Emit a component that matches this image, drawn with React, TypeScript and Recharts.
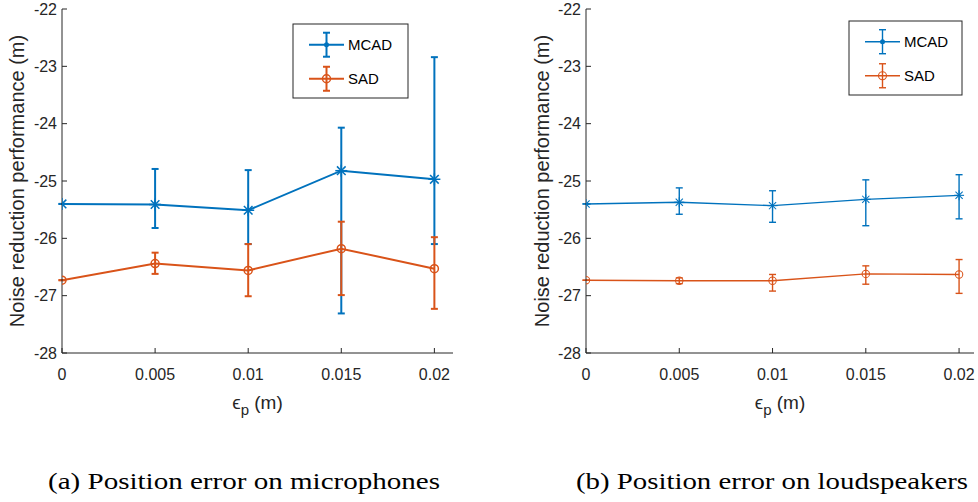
import React from 'react';
import { LineChart, Line, XAxis, YAxis, ErrorBar } from 'recharts';

// shared axes
const eps = [0, 0.005, 0.01, 0.015, 0.02];
const xTicks = [0, 0.005, 0.01, 0.015, 0.02];
const yTicks = [-28, -27, -26, -25, -24, -23, -22];

// (a) position error on microphones
const micMcad = [-25.4, -25.41, -25.51, -24.82, -24.97];
const micMcadUp = [0, 0.62, 0.7, 0.75, 2.13];
const micMcadDown = [0, 0.41, 0.59, 2.49, 1.13];
const micSad = [-26.73, -26.44, -26.56, -26.18, -26.53];
const micSadUp = [0, 0.19, 0.46, 0.47, 0.55];
const micSadDown = [0, 0.18, 0.45, 0.81, 0.7];

// (b) position error on loudspeakers
const lsMcad = [-25.4, -25.37, -25.43, -25.32, -25.25];
const lsMcadUp = [0, 0.25, 0.26, 0.34, 0.36];
const lsMcadDown = [0, 0.21, 0.29, 0.46, 0.41];
const lsSad = [-26.73, -26.74, -26.74, -26.62, -26.63];
const lsSadUp = [0, 0.05, 0.11, 0.14, 0.26];
const lsSadDown = [0, 0.05, 0.18, 0.18, 0.33];

const BLUE = '#0072BD';
const ORANGE = '#D95319';
const AXIS = '#262626';
const SANS = 'Liberation Sans, Arial, Helvetica, sans-serif';
const SERIF = 'Liberation Serif, Times New Roman, serif';

const rows = (m: number[], mu: number[], md: number[], s: number[], su: number[], sd: number[]) =>
  eps.map((x, i) => ({
    x,
    mcad: m[i],
    mcadErr: [md[i], mu[i]],
    sad: s[i],
    sadErr: [sd[i], su[i]],
  }));

const starDot = (r: number, sw: number) => (props: any) => {
  const { cx, cy, index } = props;
  if (cx == null || cy == null) return <g key={index} />;
  const d = r * 0.72;
  return (
    <g key={`s${index}`} stroke={BLUE} strokeWidth={sw}>
      <line x1={cx - r} y1={cy} x2={cx + r} y2={cy} />
      <line x1={cx} y1={cy - r} x2={cx} y2={cy + r} />
      <line x1={cx - d} y1={cy - d} x2={cx + d} y2={cy + d} />
      <line x1={cx - d} y1={cy + d} x2={cx + d} y2={cy - d} />
    </g>
  );
};

const circleDot = (r: number, sw: number) => (props: any) => {
  const { cx, cy, index } = props;
  if (cx == null || cy == null) return <g key={index} />;
  return <circle key={`c${index}`} cx={cx} cy={cy} r={r} fill="none" stroke={ORANGE} strokeWidth={sw} />;
};

interface PanelProps {
  left: number;
  width: number;
  marginLeft: number;
  marginRight: number;
  xMax: number;
  data: ReturnType<typeof rows>;
  lineWidth: number;
  starR: number;
  circR: number;
  yLabelX: number;
  legend: { x: number; y: number; w: number; h: number };
  caption: string;
  captionX: number;
}

const HEIGHT = 420;
const TOP = 9;
const BOTTOM = 37;

const Panel = (p: PanelProps) => {
  const plotLeft = p.marginLeft + 50;
  const plotRight = p.width - p.marginRight;
  const midX = (plotLeft + plotRight) / 2;
  const midY = (TOP + (HEIGHT - BOTTOM - 30)) / 2;
  const lg = p.legend;
  const row1 = lg.y + lg.h * 0.28;
  const row2 = lg.y + lg.h * 0.74;
  const lx1 = lg.x + 16;
  const lx2 = lg.x + 51;
  const lmid = (lx1 + lx2) / 2;
  return (
    <div style={{ position: 'absolute', left: p.left, top: 0, width: p.width, height: 502 }}>
      <LineChart
        width={p.width}
        height={HEIGHT}
        data={p.data}
        margin={{ top: TOP, right: p.marginRight, bottom: BOTTOM, left: p.marginLeft }}
      >
        <XAxis
          xAxisId="b"
          dataKey="x"
          type="number"
          domain={[0, p.xMax]}
          ticks={xTicks}
          allowDataOverflow
          height={30}
          stroke={AXIS}
          tickSize={-5}
          tickMargin={21}
          tick={{ fill: AXIS, fontSize: 16, fontFamily: SANS }}
          tickFormatter={(v: number) => String(v)}
          label={{
            content: () => (
              <text x={midX} y={409} textAnchor="middle" fill={AXIS} fontFamily={SANS} fontSize={19}>
                ϵ
                <tspan dy={6} fontSize={15}>p</tspan>
                <tspan dy={-6}> (m)</tspan>
              </text>
            ),
          }}
        />
        <XAxis
          xAxisId="t"
          type="number"
          orientation="top"
          mirror
          domain={[0, p.xMax]}
          ticks={xTicks}
          allowDataOverflow
          height={0}
          stroke={AXIS}
          tickSize={5}
          tick={false}
        />
        <YAxis
          yAxisId="l"
          type="number"
          domain={[-28, -22]}
          ticks={yTicks}
          allowDataOverflow
          width={50}
          stroke={AXIS}
          tickSize={-5}
          tickMargin={10}
          tick={{ fill: AXIS, fontSize: 16, fontFamily: SANS }}
          label={{
            content: () => (
              <text
                x={p.yLabelX}
                y={midY}
                textAnchor="middle"
                dominantBaseline="central"
                fill={AXIS}
                fontFamily={SANS}
                fontSize={20}
                transform={`rotate(-90, ${p.yLabelX}, ${midY})`}
              >
                Noise reduction performance (m)
              </text>
            ),
          }}
        />
        <YAxis
          yAxisId="r"
          type="number"
          orientation="right"
          mirror
          domain={[-28, -22]}
          ticks={yTicks}
          allowDataOverflow
          width={0}
          stroke={AXIS}
          tickSize={5}
          tick={false}
        />
        <Line
          xAxisId="b"
          yAxisId="l"
          dataKey="mcad"
          stroke={BLUE}
          strokeWidth={p.lineWidth}
          dot={starDot(p.starR, p.lineWidth * 0.75)}
          isAnimationActive={false}
        >
          <ErrorBar dataKey="mcadErr" direction="y" width={3.5} stroke={BLUE} strokeWidth={p.lineWidth} />
        </Line>
        <Line
          xAxisId="b"
          yAxisId="l"
          dataKey="sad"
          stroke={ORANGE}
          strokeWidth={p.lineWidth}
          dot={circleDot(p.circR, p.lineWidth * 0.75)}
          isAnimationActive={false}
        >
          <ErrorBar dataKey="sadErr" direction="y" width={3.5} stroke={ORANGE} strokeWidth={p.lineWidth} />
        </Line>
      </LineChart>
      <svg
        width={p.width}
        height={HEIGHT}
        style={{ position: 'absolute', left: 0, top: 0, pointerEvents: 'none' }}
      >
        <rect x={lg.x} y={lg.y} width={lg.w} height={lg.h} fill="#fff" stroke={AXIS} strokeWidth={1} />
        <g stroke={BLUE} strokeWidth={p.lineWidth}>
          <line x1={lx1} y1={row1} x2={lx2} y2={row1} />
          <line x1={lmid} y1={row1 - 12} x2={lmid} y2={row1 + 12} />
          <line x1={lmid - 3.5} y1={row1 - 12} x2={lmid + 3.5} y2={row1 - 12} />
          <line x1={lmid - 3.5} y1={row1 + 12} x2={lmid + 3.5} y2={row1 + 12} />
        </g>
        <circle cx={lmid} cy={row1} r={2.5} fill={BLUE} />
        <g stroke={ORANGE} strokeWidth={p.lineWidth}>
          <line x1={lx1} y1={row2} x2={lx2} y2={row2} />
          <line x1={lmid} y1={row2 - 12} x2={lmid} y2={row2 + 12} />
          <line x1={lmid - 3.5} y1={row2 - 12} x2={lmid + 3.5} y2={row2 - 12} />
          <line x1={lmid - 3.5} y1={row2 + 12} x2={lmid + 3.5} y2={row2 + 12} />
        </g>
        <circle cx={lmid} cy={row2} r={4} fill="none" stroke={ORANGE} strokeWidth={p.lineWidth * 0.75} />
        <text x={lx2 + 4} y={row1} dominantBaseline="central" fontFamily={SANS} fontSize={15} fill="#000">
          MCAD
        </text>
        <text x={lx2 + 4} y={row2} dominantBaseline="central" fontFamily={SANS} fontSize={15} fill="#000">
          SAD
        </text>
      </svg>
      <svg width={p.width} height={82} style={{ position: 'absolute', left: 0, top: HEIGHT }}>
        <text
          x={p.captionX}
          y={69}
          textAnchor="middle"
          fontFamily={SERIF}
          fontSize={24}
          fill="#000"
          textLength={392}
          lengthAdjust="spacingAndGlyphs"
        >
          {p.caption}
        </text>
      </svg>
    </div>
  );
};

const micData = rows(micMcad, micMcadUp, micMcadDown, micSad, micSadUp, micSadDown);
const lsData = rows(lsMcad, lsMcadUp, lsMcadDown, lsSad, lsSadUp, lsSadDown);

export default function App() {
  return (
    <div style={{ position: 'absolute', left: 0, top: 0, width: 978, height: 502, background: '#fff' }}>
      <Panel
        left={0}
        width={490}
        marginLeft={12}
        marginRight={37}
        xMax={0.021}
        data={micData}
        lineWidth={2}
        starR={6}
        circR={4}
        yLabelX={17}
        legend={{ x: 293, y: 24, w: 115, h: 74 }}
        caption="(a) Position error on microphones"
        captionX={244}
      />
      <Panel
        left={500}
        width={478}
        marginLeft={36}
        marginRight={4}
        xMax={0.0208}
        data={lsData}
        lineWidth={1.4}
        starR={5}
        circR={3.7}
        yLabelX={42}
        legend={{ x: 349, y: 21, w: 113, h: 74 }}
        caption="(b) Position error on loudspeakers"
        captionX={272}
      />
    </div>
  );
}
